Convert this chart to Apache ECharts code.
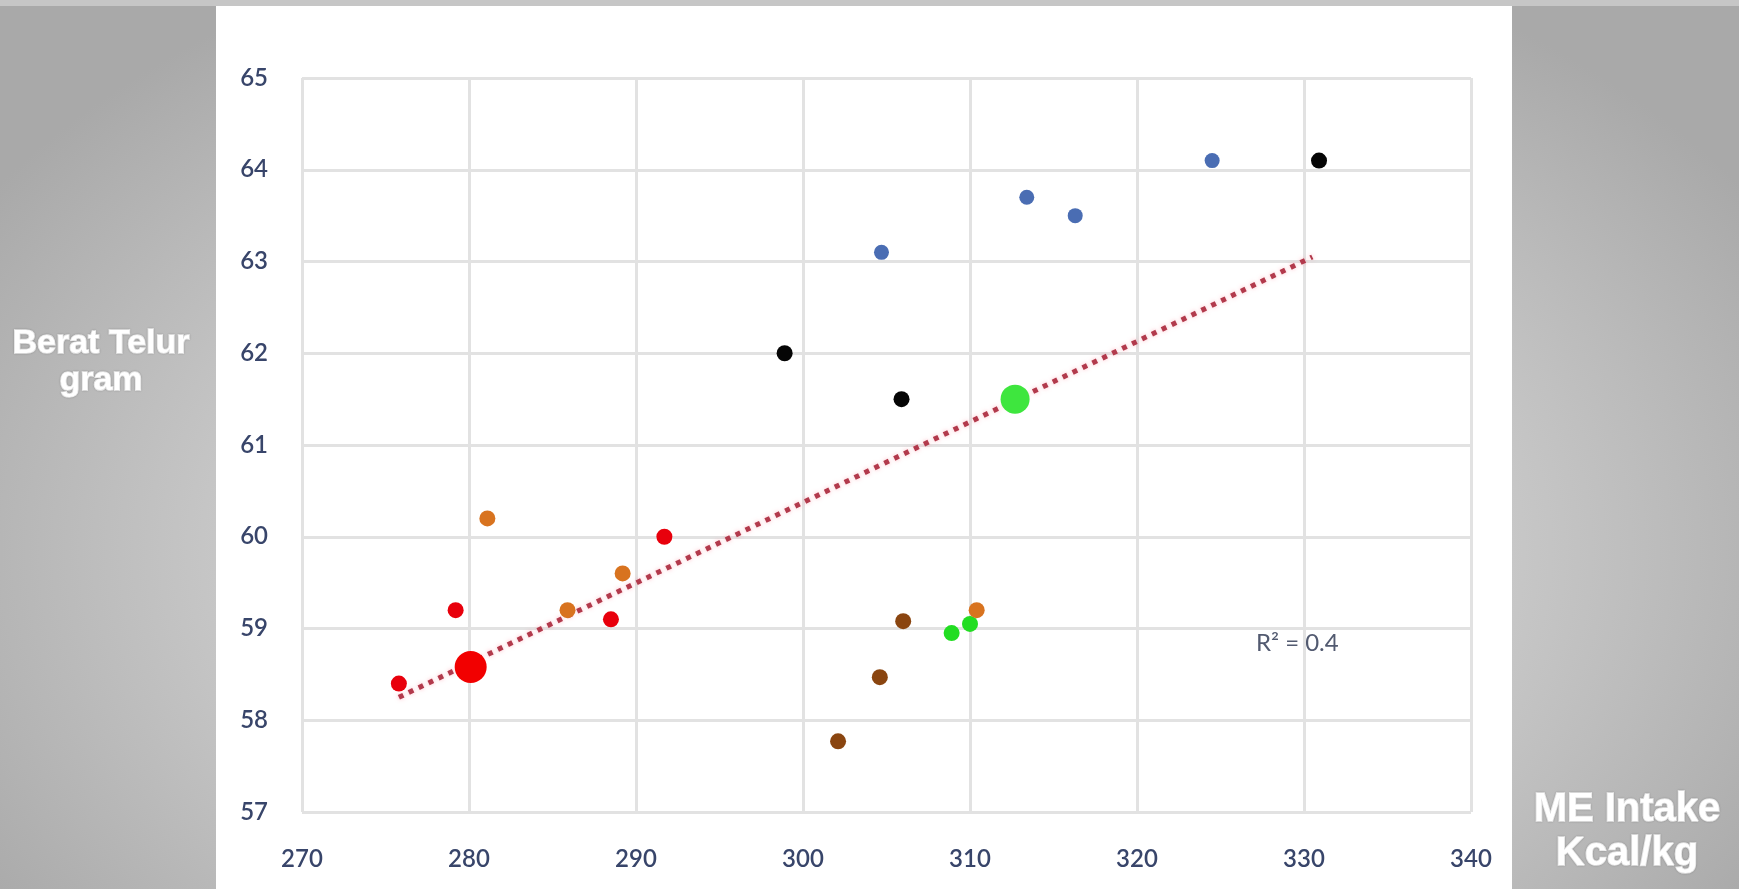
<!DOCTYPE html>
<html>
<head>
<meta charset="utf-8">
<script src="https://cdn.jsdelivr.net/npm/echarts@6/dist/echarts.min.js"></script>
<style>
html,body{margin:0;padding:0;width:1739px;height:889px;overflow:hidden;
background: radial-gradient(ellipse 60% 75% at 50% 62%, #dedede 0%, #cccccc 55%, #a9a9a9 100%);}
#c{width:1739px;height:889px;}
</style>
</head>
<body>
<div id="c"></div>
<script>
// ---- data ----
const xTicks = [270, 280, 290, 300, 310, 320, 330, 340];
const yTicks = [57, 58, 59, 60, 61, 62, 63, 64, 65];

const bluePts   = [[304.7, 63.1], [313.4, 63.7], [316.3, 63.5], [324.5, 64.1]];
const blackPts  = [[298.9, 62.0], [305.9, 61.5], [330.9, 64.1]];
const greenBig  = [[312.7, 61.5]];
const greenPts  = [[308.9, 58.95], [310.0, 59.05]];
const orangePts = [[281.1, 60.2], [285.9, 59.2], [289.2, 59.6], [310.4, 59.2]];
const brownPts  = [[306.0, 59.08], [304.6, 58.47], [302.1, 57.77]];
const redBig    = [[280.1, 58.58]];
const redPts    = [[275.8, 58.4], [279.2, 59.2], [288.5, 59.1], [291.7, 60.0]];
const trendPts  = [[275.8, 58.25], [330.5, 63.05]];
const r2Label   = 'R² = 0.4';
const r2Pos     = [329.6, 58.84];

const chart = echarts.init(document.getElementById('c'), null, {renderer: 'canvas'});

function dots(name, data, color, size) {
  return {
    name, type: 'scatter', data, symbol: 'circle', symbolSize: size,
    itemStyle: {color, opacity: 1}, z: 5
  };
}

const baseGraphic = [
  {type: 'rect', z: -10, silent: true, shape: {x: 0, y: 0, width: 1739, height: 6}, style: {fill: '#c6c6c6'}},
  {type: 'rect', z: -9, silent: true, shape: {x: 216, y: 6, width: 1296, height: 883}, style: {fill: '#ffffff'}},
  {type: 'text', z: 10, silent: true, x: 101, y: 362,
    style: {text: 'Berat Telur\ngram', fill: '#ffffff', font: 'bold 34px "Liberation Sans"',
      align: 'center', verticalAlign: 'middle', lineHeight: 37,
      stroke: 'rgba(255,255,255,0.9)', lineWidth: 1.5,
      textShadowColor: 'rgba(0,0,0,0.25)', textShadowBlur: 2}},
  {type: 'text', z: 10, silent: true, x: 1627, y: 832,
    style: {text: 'ME Intake\nKcal/kg', fill: '#ffffff', font: 'bold 40px "Liberation Sans"',
      align: 'center', verticalAlign: 'middle', lineHeight: 44,
      stroke: 'rgba(255,255,255,0.9)', lineWidth: 1.5,
      textShadowColor: 'rgba(0,0,0,0.25)', textShadowBlur: 2}}
];

const option = {
  backgroundColor: 'transparent',
  animation: false,
  grid: {left: 302, right: 268, top: 78, bottom: 77, containLabel: false},
  xAxis: {
    type: 'value', min: 270, max: 340, interval: 10,
    axisLine: {show: false}, axisTick: {show: false},
    splitLine: {show: true, lineStyle: {color: '#e2e2e2', width: 3}},
    axisLabel: {color: '#38456a', fontFamily: 'Lato', fontSize: 24, fontWeight: 600, margin: 35,
      formatter: v => xTicks.includes(v) ? String(v) : ''}
  },
  yAxis: {
    type: 'value', min: 57, max: 65, interval: 1,
    axisLine: {show: false}, axisTick: {show: false},
    splitLine: {show: true, lineStyle: {color: '#e2e2e2', width: 3}},
    axisLabel: {color: '#38456a', fontFamily: 'Lato', fontSize: 24, fontWeight: 600, margin: 34,
      formatter: v => yTicks.includes(v) ? String(v) : ''}
  },
  series: [
    {
      name: 'trend', type: 'line', data: trendPts, symbol: 'none', z: 3,
      lineStyle: {color: '#b23a4c', width: 5, type: [5, 6], cap: 'butt',
        shadowColor: 'rgba(255,120,140,0.5)', shadowBlur: 4}
    },
    dots('blue', bluePts, '#4a6db3', 15),
    dots('black', blackPts, '#050505', 16),
    dots('greenBig', greenBig, '#3ee63e', 29),
    dots('green', greenPts, '#22dd22', 16),
    dots('orange', orangePts, '#d8731f', 16),
    dots('brown', brownPts, '#8a4510', 16),
    dots('redBig', redBig, '#f20000', 32),
    dots('red', redPts, '#e8000c', 16)
  ],
  graphic: baseGraphic
};
chart.setOption(option);

const p = chart.convertToPixel({gridIndex: 0}, r2Pos);
chart.setOption({
  graphic: baseGraphic.concat([
    {type: 'text', z: 10, silent: true, x: p[0], y: p[1],
      style: {text: r2Label, fill: '#525a70', font: '24px Lato', align: 'center', verticalAlign: 'middle'}}
  ])
}, {replaceMerge: ['graphic']});
</script>
</body>
</html>
